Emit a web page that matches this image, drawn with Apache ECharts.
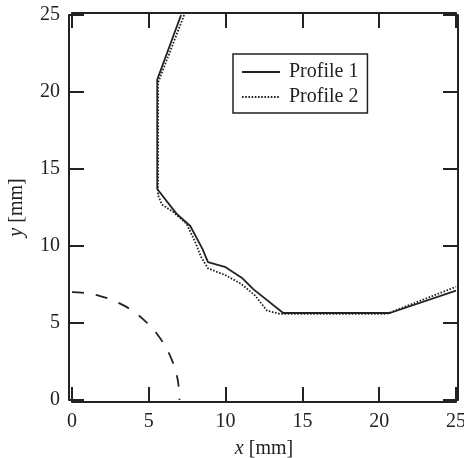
<!DOCTYPE html>
<html>
<head>
<meta charset="utf-8">
<script src="https://cdn.jsdelivr.net/npm/echarts@6/dist/echarts.min.js"></script>
<style>
  html, body { margin: 0; padding: 0; background: #fff; }
  #chart { width: 464px; height: 458px; }
</style>
</head>
<body>
<div id="chart"></div>
<script>
// Profile 1 (solid) points [x, y] in mm
const profile1 = [
  [7.1, 25], [5.55, 20.8], [5.55, 13.7], [6.8, 12.1], [7.7, 11.3], [8.5, 9.8],
  [8.85, 8.95], [9.95, 8.65], [11.1, 7.9], [11.8, 7.2], [13.75, 5.65],
  [20.7, 5.65], [25, 7.1]
];
// Profile 2 (dotted) points [x, y] in mm
const profile2 = [
  [7.3, 25], [5.6, 20.6], [5.6, 13.3], [5.85, 12.7], [6.6, 12.2], [7.45, 11.45],
  [8.0, 10.3], [8.4, 9.3], [8.85, 8.55], [10.0, 8.1], [11.0, 7.55], [11.9, 6.8],
  [12.7, 5.8], [13.5, 5.6], [20.5, 5.6], [25, 7.35]
];
// Dashed arc points [x, y] in mm
const arc = [
  [0, 7.0], [1, 6.93], [2, 6.7], [3, 6.32], [4, 5.74], [5, 4.9], [5.5, 4.33],
  [6, 3.6], [6.5, 2.6], [6.8, 1.7], [6.95, 0.8], [7, 0]
];
const seriesNames = ['Profile 1', 'Profile 2'];
const axisMin = 0, axisMax = 25, axisStep = 5;

const ink = '#222';
const serif = '"Liberation Serif", "DejaVu Serif", serif';

function axisBase(extra) {
  return Object.assign({
    type: 'value', min: axisMin, max: axisMax, interval: axisStep,
    axisLine: { show: true, onZero: false, lineStyle: { color: ink, width: 2 } },
    axisTick: { show: true, inside: true, length: 15, lineStyle: { color: ink, width: 2 } },
    splitLine: { show: false },
    axisLabel: { show: false }
  }, extra);
}

const chart = echarts.init(document.getElementById('chart'), null, { renderer: 'canvas' });
chart.setOption({
  animation: false,
  backgroundColor: '#fff',
  grid: { left: 72, right: 8, top: 15, bottom: 58, containLabel: false, outerBoundsMode: 'none' },
  legend: {
    data: seriesNames,
    orient: 'vertical',
    left: 233, top: 54,
    itemWidth: 38, itemHeight: 20, itemGap: 5,
    padding: [8, 9, 6, 8],
    borderColor: ink, borderWidth: 1.5,
    itemStyle: { opacity: 0 },
    textStyle: { fontFamily: serif, fontSize: 20, color: ink, padding: [0, 0, 0, 4] }
  },
  xAxis: [
    axisBase({
      position: 'bottom', offset: 2,
      axisLabel: { show: true, margin: 10, fontFamily: serif, fontSize: 20, color: ink },
      name: '{i|x} [mm]', nameLocation: 'middle', nameGap: 37,
      nameTextStyle: { fontFamily: serif, fontSize: 20, color: ink,
        rich: { i: { fontFamily: serif, fontSize: 20, fontStyle: 'italic', color: ink } } }
    }),
    axisBase({ position: 'top', offset: 2 })
  ],
  yAxis: [
    axisBase({
      position: 'left', offset: 3,
      axisLabel: { show: true, margin: 9, fontFamily: serif, fontSize: 20, color: ink },
      name: '{i|y} [mm]', nameLocation: 'middle', nameGap: 42, nameRotate: 90,
      nameTextStyle: { fontFamily: serif, fontSize: 20, color: ink,
        rich: { i: { fontFamily: serif, fontSize: 20, fontStyle: 'italic', color: ink } } }
    }),
    axisBase({ position: 'right', offset: 2 })
  ],
  series: [
    { name: seriesNames[0], type: 'line', data: profile1, symbol: 'none',
      lineStyle: { color: ink, width: 1.8, type: 'solid' }, itemStyle: { color: ink } },
    { name: seriesNames[1], type: 'line', data: profile2, symbol: 'none',
      lineStyle: { color: ink, width: 1.8, type: [1.6, 1.6] }, itemStyle: { color: ink } },
    { name: 'arc', type: 'line', data: arc, symbol: 'none', smooth: true,
      lineStyle: { color: ink, width: 1.8, type: [12, 12] } }
  ]
});
</script>
</body>
</html>
